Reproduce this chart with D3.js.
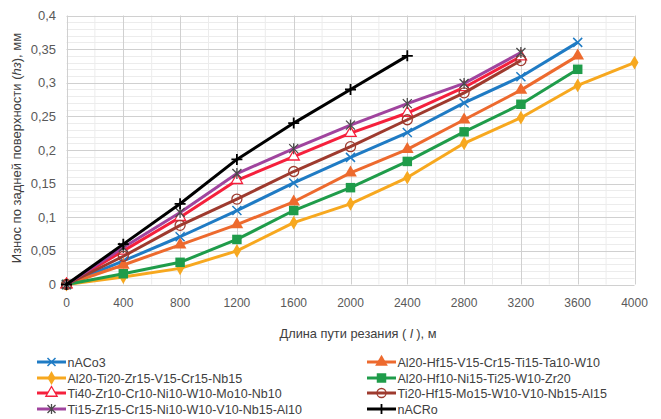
<!DOCTYPE html>
<html>
    <head>
        <meta charset="utf-8" />
        <script src="https://d3js.org/d3.v7.min.js"></script>
        <style>
            body {
                margin: 0;
                background-color: white;
            }
            svg {
                display: block;
                font-family: 'Liberation Sans', Arial, sans-serif;
            }
        </style>
    </head>
    <body>
        <svg></svg>
        <script>
            const distances = [0, 400, 800, 1200, 1600, 2000, 2400, 2800, 3200, 3600, 4000]
            const xTicks = [0, 400, 800, 1200, 1600, 2000, 2400, 2800, 3200, 3600, 4000]
            const yTicks = [0, 0.05, 0.1, 0.15, 0.2, 0.25, 0.3, 0.35, 0.4]

            const names = [
                'nACo3',
                'Al20-Hf15-V15-Cr15-Ti15-Ta10-W10',
                'Al20-Ti20-Zr15-V15-Cr15-Nb15',
                'Al20-Hf10-Ni15-Ti25-W10-Zr20',
                'Ti40-Zr10-Cr10-Ni10-W10-Mo10-Nb10',
                'Ti20-Hf15-Mo15-W10-V10-Nb15-Al15',
                'Ti15-Zr15-Cr15-Ni10-W10-V10-Nb15-Al10',
                'nACRo',
            ]
            const colors = ['#1f7bc4', '#ed6a2e', '#f7a81f', '#1f9c4a', '#f5203c', '#9e3a2e', '#a0449e', '#000000']
            const markers = ['cross', 'triangle', 'diamond', 'square', 'openTriangle', 'circle', 'star', 'plus']

            const nACo3 = [0, 0.035, 0.071, 0.11, 0.151, 0.189, 0.226, 0.27, 0.309, 0.36]
            const alHfVCr = [0, 0.029, 0.059, 0.089, 0.123, 0.166, 0.201, 0.245, 0.289, 0.34]
            const alTiZr = [0, 0.011, 0.024, 0.05, 0.092, 0.12, 0.159, 0.21, 0.248, 0.296, 0.33]
            const alHfNi = [0, 0.016, 0.033, 0.067, 0.11, 0.144, 0.183, 0.227, 0.268, 0.32]
            const tiZrCrMo = [0, 0.05, 0.1, 0.155, 0.19, 0.225, 0.255, 0.293, 0.339]
            const tiHfMo = [0, 0.042, 0.088, 0.127, 0.168, 0.205, 0.245, 0.285, 0.333]
            const tiZrCrV = [0, 0.055, 0.107, 0.165, 0.202, 0.237, 0.269, 0.299, 0.345]
            const nACRo = [0, 0.06, 0.12, 0.186, 0.24, 0.29, 0.34]
            const values = [nACo3, alHfVCr, alTiZr, alHfNi, tiZrCrMo, tiHfMo, tiZrCrV, nACRo]

            const W = 661
            const H = 419
            const svg = d3.select('svg').attr('width', W).attr('height', H)

            const x = d3.scaleLinear().domain([0, 4000]).range([66.5, 634.5])
            const y = d3.scaleLinear().domain([0, 0.4]).range([284.5, 15.5])

            // minor grid
            const g = svg.append('g')
            g.selectAll('.vmin')
                .data(d3.range(200, 4000, 400))
                .enter()
                .append('line')
                .attr('x1', (d) => x(d))
                .attr('x2', (d) => x(d))
                .attr('y1', y(0))
                .attr('y2', y(0.4))
                .style('stroke', '#ececec')
            g.selectAll('.hmin')
                .data(d3.range(1, 40).filter((i) => i % 5 !== 0).map((i) => i / 100))
                .enter()
                .append('line')
                .attr('x1', x(0))
                .attr('x2', x(4000))
                .attr('y1', (d) => Math.round(y(d)) + 0.5)
                .attr('y2', (d) => Math.round(y(d)) + 0.5)
                .style('stroke', '#ececec')
            // major grid
            g.selectAll('.vmaj')
                .data(xTicks)
                .enter()
                .append('line')
                .attr('x1', (d) => Math.round(x(d)) + 0.5)
                .attr('x2', (d) => Math.round(x(d)) + 0.5)
                .attr('y1', y(0))
                .attr('y2', y(0.4))
                .style('stroke', '#d0d0d0')
            g.selectAll('.hmaj')
                .data(yTicks)
                .enter()
                .append('line')
                .attr('x1', x(0))
                .attr('x2', x(4000))
                .attr('y1', (d) => Math.round(y(d)) + 0.5)
                .attr('y2', (d) => Math.round(y(d)) + 0.5)
                .style('stroke', '#d0d0d0')

            // tick labels
            const fmt = (d) => String(d).replace('.', ',')
            svg.selectAll('.ylab')
                .data(yTicks)
                .enter()
                .append('text')
                .attr('x', 56)
                .attr('y', (d) => y(d) + 4.5)
                .attr('text-anchor', 'end')
                .style('font-size', '13px')
                .style('fill', '#595959')
                .text(fmt)
            svg.selectAll('.xlab')
                .data(xTicks)
                .enter()
                .append('text')
                .attr('x', (d) => x(d))
                .attr('y', 307)
                .attr('text-anchor', 'middle')
                .style('font-size', '12px')
                .style('fill', '#595959')
                .text(fmt)

            // axis titles
            const xt = svg.append('text')
                .attr('x', 358)
                .attr('y', 338)
                .attr('text-anchor', 'middle')
                .style('font-size', '12.8px')
                .style('fill', '#404040')
            xt.append('tspan').text('Длина пути резания ( ')
            xt.append('tspan').style('font-style', 'italic').text('l')
            xt.append('tspan').text(' ), м')

            const yt = svg.append('text')
                .attr('transform', 'translate(20.5,148) rotate(-90)')
                .attr('text-anchor', 'middle')
                .style('font-size', '13px')
                .style('fill', '#404040')
            yt.append('tspan').text('Износ по задней поверхности  (')
            yt.append('tspan').style('font-style', 'italic').text('hз')
            yt.append('tspan').text('), мм')

            function drawMarker(sel, type, color, s) {
                if (type === 'cross') {
                    sel.append('path')
                        .attr('d', `M${-s},${-s}L${s},${s}M${-s},${s}L${s},${-s}`)
                        .style('stroke', color).style('stroke-width', 1.5).style('fill', 'none')
                } else if (type === 'plus') {
                    sel.append('path')
                        .attr('d', `M${-s - 1},0L${s + 1},0M0,${-s - 1}L0,${s + 1}`)
                        .style('stroke', color).style('stroke-width', 1.8).style('fill', 'none')
                } else if (type === 'star') {
                    sel.append('path')
                        .attr('d', `M${-s},${-s}L${s},${s}M${-s},${s}L${s},${-s}M0,${-s - 1}L0,${s + 1}`)
                        .style('stroke', '#4a4a4a').style('stroke-width', 1.3).style('fill', 'none')
                } else if (type === 'triangle') {
                    sel.append('path')
                        .attr('d', d3.symbol(d3.symbolTriangle, 70)())
                        .style('fill', color)
                } else if (type === 'openTriangle') {
                    sel.append('path')
                        .attr('d', d3.symbol(d3.symbolTriangle, 55)())
                        .style('fill', 'white').style('stroke', color).style('stroke-width', 1.3)
                } else if (type === 'diamond') {
                    sel.append('path')
                        .attr('d', d3.symbol(d3.symbolDiamond, 55)())
                        .style('fill', color)
                } else if (type === 'square') {
                    sel.append('path')
                        .attr('d', d3.symbol(d3.symbolSquare, 90)())
                        .style('fill', color)
                } else if (type === 'circle') {
                    sel.append('circle')
                        .attr('r', s + 0.5)
                        .style('fill', 'none').style('stroke', color).style('stroke-width', 1.3)
                }
            }

            const line = d3.line()
                .x((d, i) => x(distances[i]))
                .y((d) => y(d))

            names.forEach((name, k) => {
                const sg = svg.append('g')
                sg.append('path')
                    .datum(values[k])
                    .attr('d', line)
                    .style('fill', 'none')
                    .style('stroke', colors[k])
                    .style('stroke-width', 3)
                    .style('stroke-linejoin', 'round')
                values[k].forEach((v, i) => {
                    const m = sg.append('g').attr('transform', `translate(${x(distances[i])},${y(v)})`)
                    drawMarker(m, markers[k], colors[k], 4.5)
                })
            })

            // legend
            const legendX = [37, 367]
            const legendY = [362, 378, 393, 409]
            names.forEach((name, k) => {
                const col = k % 2
                const row = Math.floor(k / 2)
                const lg = svg.append('g').attr('transform', `translate(${legendX[col]},${legendY[row]})`)
                lg.append('line')
                    .attr('x1', 0).attr('x2', 29).attr('y1', 0).attr('y2', 0)
                    .style('stroke', colors[k]).style('stroke-width', 3)
                drawMarker(lg.append('g').attr('transform', 'translate(14.5,0)'), markers[k], colors[k], 4)
                lg.append('text')
                    .attr('x', 30.5)
                    .attr('y', 4.5)
                    .style('font-size', '12.5px')
                    .style('fill', '#404040')
                    .text(name)
            })
        </script>
    </body>
</html>
